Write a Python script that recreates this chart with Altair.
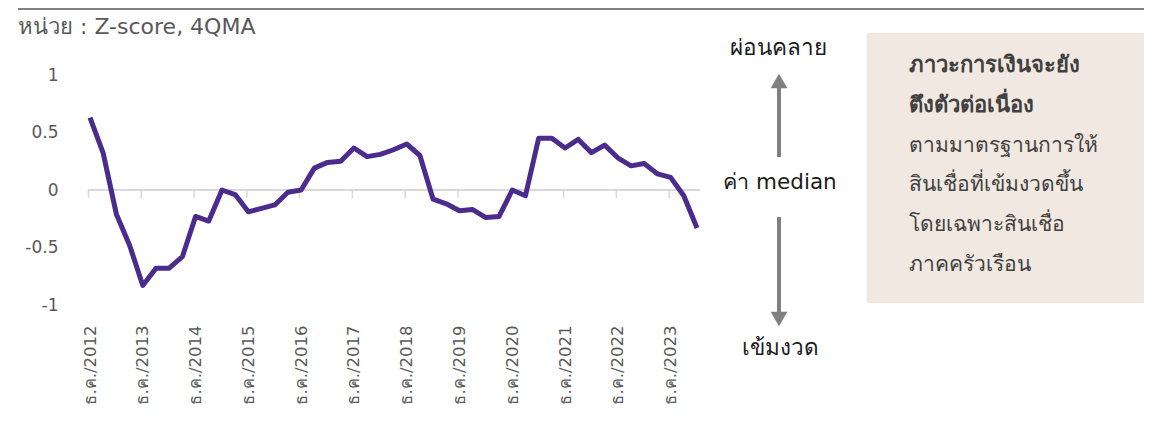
import altair as alt
import pandas as pd

# ---- data ----
quarter_months = ["มี.ค.", "มิ.ย.", "ก.ย.", "ธ.ค."]
periods = ["ธ.ค./2012"] + [f"{m}/{y}" for y in range(2013, 2025) for m in quarter_months][:46]
values = [0.63, 0.32, -0.21, -0.48, -0.83, -0.68, -0.68, -0.58, -0.23, -0.27,
          0.0, -0.04, -0.19, -0.16, -0.13, -0.02, 0.0, 0.19, 0.24, 0.25,
          0.365, 0.29, 0.31, 0.35, 0.40, 0.30, -0.08, -0.12, -0.18, -0.17,
          -0.24, -0.23, 0.0, -0.05, 0.45, 0.45, 0.365, 0.44, 0.325, 0.39,
          0.28, 0.21, 0.23, 0.14, 0.11, -0.05, -0.33]
tick_labels = [f"ธ.ค./{y}" for y in range(2012, 2024)]
y_ticks = [-1, -0.5, 0, 0.5, 1]

title_text = "หน่วย : Z-score, 4QMA"
up_text = "ผ่อนคลาย"
mid_text = "ค่า median"
down_text = "เข้มงวด"
box_bold = ["ภาวะการเงินจะยัง", "ตึงตัวต่อเนื่อง"]
box_plain = ["ตามมาตรฐานการให้", "สินเชื่อที่เข้มงวดขึ้น", "โดยเฉพาะสินเชื่อ", "ภาคครัวเรือน"]

df = pd.DataFrame({"period": periods, "value": values})
ticks_df = pd.DataFrame({"period": tick_labels})
zero_df = pd.DataFrame({"value": [0]})
one = pd.DataFrame({"a": [0]})

FONT = "DejaVu Sans"
W, H = 607, 230
LINE_COLOR = "#4b2c8c"
GRAY = "#595959"

xscale = alt.Scale(type="point", domain=periods, padding=0)
yscale = alt.Scale(domain=[-1, 1], nice=False, zero=False)
xaxis = alt.Axis(values=tick_labels, title=None, domain=False, ticks=False, tickSize=0,
                 labelAngle=-90, labelPadding=20, labelFontSize=16.5, labelColor=GRAY,
                 labelFont=FONT, grid=False)
yaxis = alt.Axis(values=y_ticks, title=None, domain=False, ticks=False, tickSize=0,
                 labelPadding=32, labelFontSize=17, labelColor=GRAY, labelFont=FONT,
                 grid=False, labelExpr="'' + datum.value")

zero_rule = alt.Chart(zero_df).mark_rule(color="#d9d9d9", strokeWidth=2).encode(
    y=alt.Y("value:Q", scale=yscale, axis=yaxis),
    x=alt.value(-2), x2=alt.value(610),
)

tick_rules = alt.Chart(ticks_df).mark_rule(color="#d9d9d9", strokeWidth=1.5, xOffset=-1.5).encode(
    x=alt.X("period:O", scale=xscale, sort=None, axis=xaxis),
    y=alt.value(H / 2), y2=alt.value(H / 2 + 8),
)

line = alt.Chart(df).mark_line(color=LINE_COLOR, strokeWidth=5, strokeJoin="round").encode(
    x=alt.X("period:O", scale=xscale, sort=None, axis=xaxis),
    y=alt.Y("value:Q", scale=yscale, axis=yaxis),
)

def txt(text, x, y, size=21, color="#1a1a1a", align="center", weight="normal"):
    return alt.Chart(one).mark_text(
        text=text, align=align, baseline="middle", fontSize=size, color=color,
        font=FONT, fontWeight=weight
    ).encode(x=alt.value(x), y=alt.value(y))

top_rule = alt.Chart(one).mark_rule(color="#808080", strokeWidth=2).encode(
    x=alt.value(-72), x2=alt.value(1058), y=alt.value(-66)
)

title = txt(title_text, -72, -48, size=22, color=GRAY, align="left")

AX = 689
ARROW = "#808080"
up_shaft = alt.Chart(one).mark_rule(color=ARROW, strokeWidth=4).encode(
    x=alt.value(AX), y=alt.value(10), y2=alt.value(82))
up_head = alt.Chart(one).mark_point(shape="triangle-up", size=280, filled=True,
                                     color=ARROW, opacity=1).encode(
    x=alt.value(AX), y=alt.value(6))
down_shaft = alt.Chart(one).mark_rule(color=ARROW, strokeWidth=4).encode(
    x=alt.value(AX), y=alt.value(142), y2=alt.value(240))
down_head = alt.Chart(one).mark_point(shape="triangle-down", size=280, filled=True,
                                       color=ARROW, opacity=1).encode(
    x=alt.value(AX), y=alt.value(244))

box = alt.Chart(one).mark_rect(color="#f1e8e2").encode(
    x=alt.value(777), x2=alt.value(1060), y=alt.value(-42), y2=alt.value(228))

layers = [zero_rule, tick_rules, line, top_rule, title,
          txt(up_text, 688, -27, size=22.5), up_shaft, up_head,
          txt(mid_text, 690, 108, size=21.5), down_shaft, down_head,
          txt(down_text, 690, 273, size=22.5), box]

BOX_COLOR = "#404040"
ys = [-10, 30, 71, 110, 150, 190]
for i, t in enumerate(box_bold):
    layers.append(txt(t, 819, ys[i], size=22, color=BOX_COLOR, align="left", weight="bold"))
for j, t in enumerate(box_plain):
    layers.append(txt(t, 819, ys[len(box_bold) + j], size=21, color=BOX_COLOR, align="left"))

chart = alt.layer(*layers).properties(
    width=W, height=H,
    autosize=alt.AutoSizeParams(type="none"),
    padding={"left": 82, "top": 67, "right": 1136 - 82 - W, "bottom": 410 - 67 - H},
).configure_view(stroke=None)

chart.save("out.html", embed_options={"renderer": "svg", "actions": False})
